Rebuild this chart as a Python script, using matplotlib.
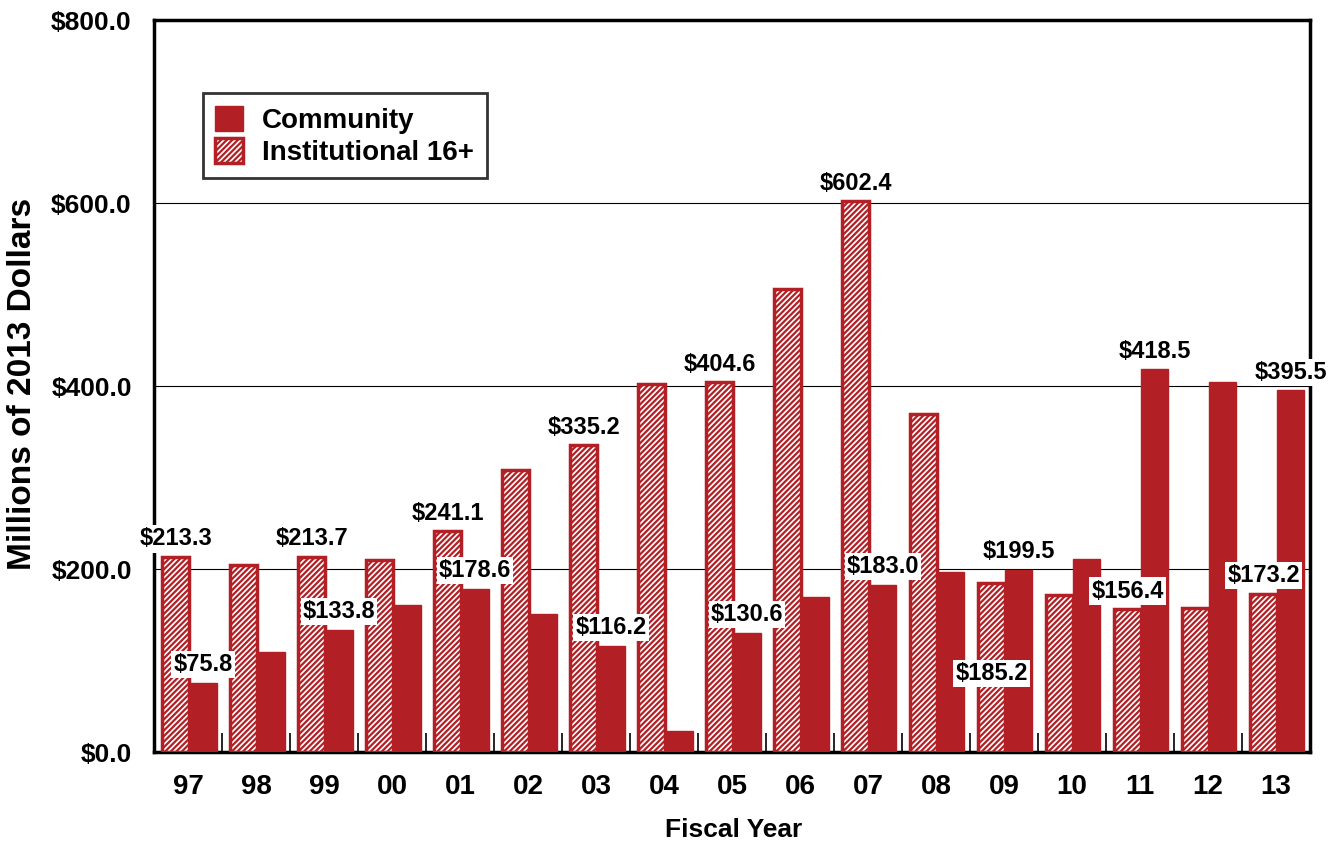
import numpy as np
import matplotlib.pyplot as plt

plt.rcParams['font.family'] = ['Liberation Sans', 'DejaVu Sans']
plt.rcParams['font.weight'] = 'bold'
plt.rcParams['hatch.linewidth'] = 1.6

years = ['97', '98', '99', '00', '01', '02', '03', '04', '05', '06', '07', '08', '09', '10', '11', '12', '13']
community = [75.8, 109, 133.8, 160.5, 178.6, 151, 116.2, 23, 130.6, 169, 183.0, 197, 199.5, 211, 418.5, 404, 395.5]
institutional = [213.3, 204, 213.7, 210, 241.1, 308, 335.2, 402, 404.6, 506, 602.4, 370, 185.2, 171.5, 156.4, 157, 173.2]
# which bars carry a value label, and whether it sits above the bar or lower down
inst_labels = {0: 'above', 2: 'above', 4: 'above', 6: 'above', 8: 'above', 10: 'above',
               12: 'below', 14: 'above', 16: 'above'}
comm_labels = {0: 'above', 2: 'above', 4: 'above', 6: 'above', 8: 'above', 10: 'above',
               12: 'above', 14: 'above', 16: 'above'}

red = '#B21F24'

fig = plt.figure(figsize=(13.38, 8.44), dpi=100)
ax = fig.add_axes([0.1151, 0.109, 0.8639, 0.867])

x = np.arange(len(years))
w = 0.4
b_inst = ax.bar(x - w / 2 + 0.02, institutional, width=w, color='white', edgecolor=red,
                hatch='//////', linewidth=2.5, label='Institutional 16+', zorder=3)
b_comm = ax.bar(x + w / 2 + 0.02, community, width=w, color=red, edgecolor=red,
                linewidth=1, label='Community', zorder=3)

box = dict(facecolor='white', edgecolor='none', pad=1.5)
for i, pos in inst_labels.items():
    v = institutional[i]
    y = v + 7 if pos == 'above' else v - 112
    ax.text(x[i] - w / 2 + 0.02, y, '$%.1f' % v, ha='center', va='bottom',
            fontsize=17, fontweight='bold', bbox=box, zorder=5)
for i, pos in comm_labels.items():
    v = community[i]
    ax.text(x[i] + w / 2 + 0.02, v + 7, '$%.1f' % v, ha='center', va='bottom',
            fontsize=17, fontweight='bold', bbox=box, zorder=5)

ax.set_xlim(-0.5, len(years) - 0.5)
ax.set_ylim(0, 800)
ax.set_yticks([0, 200, 400, 600, 800])
ax.set_yticklabels(['$%.1f' % t for t in [0, 200, 400, 600, 800]], fontsize=19, fontweight='bold')
ax.tick_params(axis='y', length=0, pad=16)
ax.set_xticks(x)
ax.set_xticklabels(years, fontsize=20, fontweight='bold')
ax.tick_params(axis='x', length=0, pad=16)
ax.set_xticks(np.arange(len(years) - 1) + 0.5, minor=True)
ax.tick_params(axis='x', which='minor', direction='in', length=14, width=1.2)
ax.grid(axis='y', color='black', linewidth=0.8, zorder=0)
ax.set_axisbelow(True)
for s in ax.spines.values():
    s.set_linewidth(2.5)

fig.text(0.017, 0.545, 'Millions of 2013 Dollars', rotation=90, ha='center', va='center',
         fontsize=24, fontweight='bold')
fig.text(0.548, 0.016, 'Fiscal Year', ha='center', va='center', fontsize=19, fontweight='bold')

leg = ax.legend(handles=[b_comm, b_inst], loc='upper left', bbox_to_anchor=(0.042, 0.9),
                fontsize=20, frameon=True, fancybox=False, borderpad=0.45,
                handlelength=1.0, handleheight=1.0, handletextpad=0.7, labelspacing=0.15,
                borderaxespad=0)
leg.get_frame().set_edgecolor('black')
leg.get_frame().set_linewidth(2)

fig.savefig('out.png', dpi=100)
